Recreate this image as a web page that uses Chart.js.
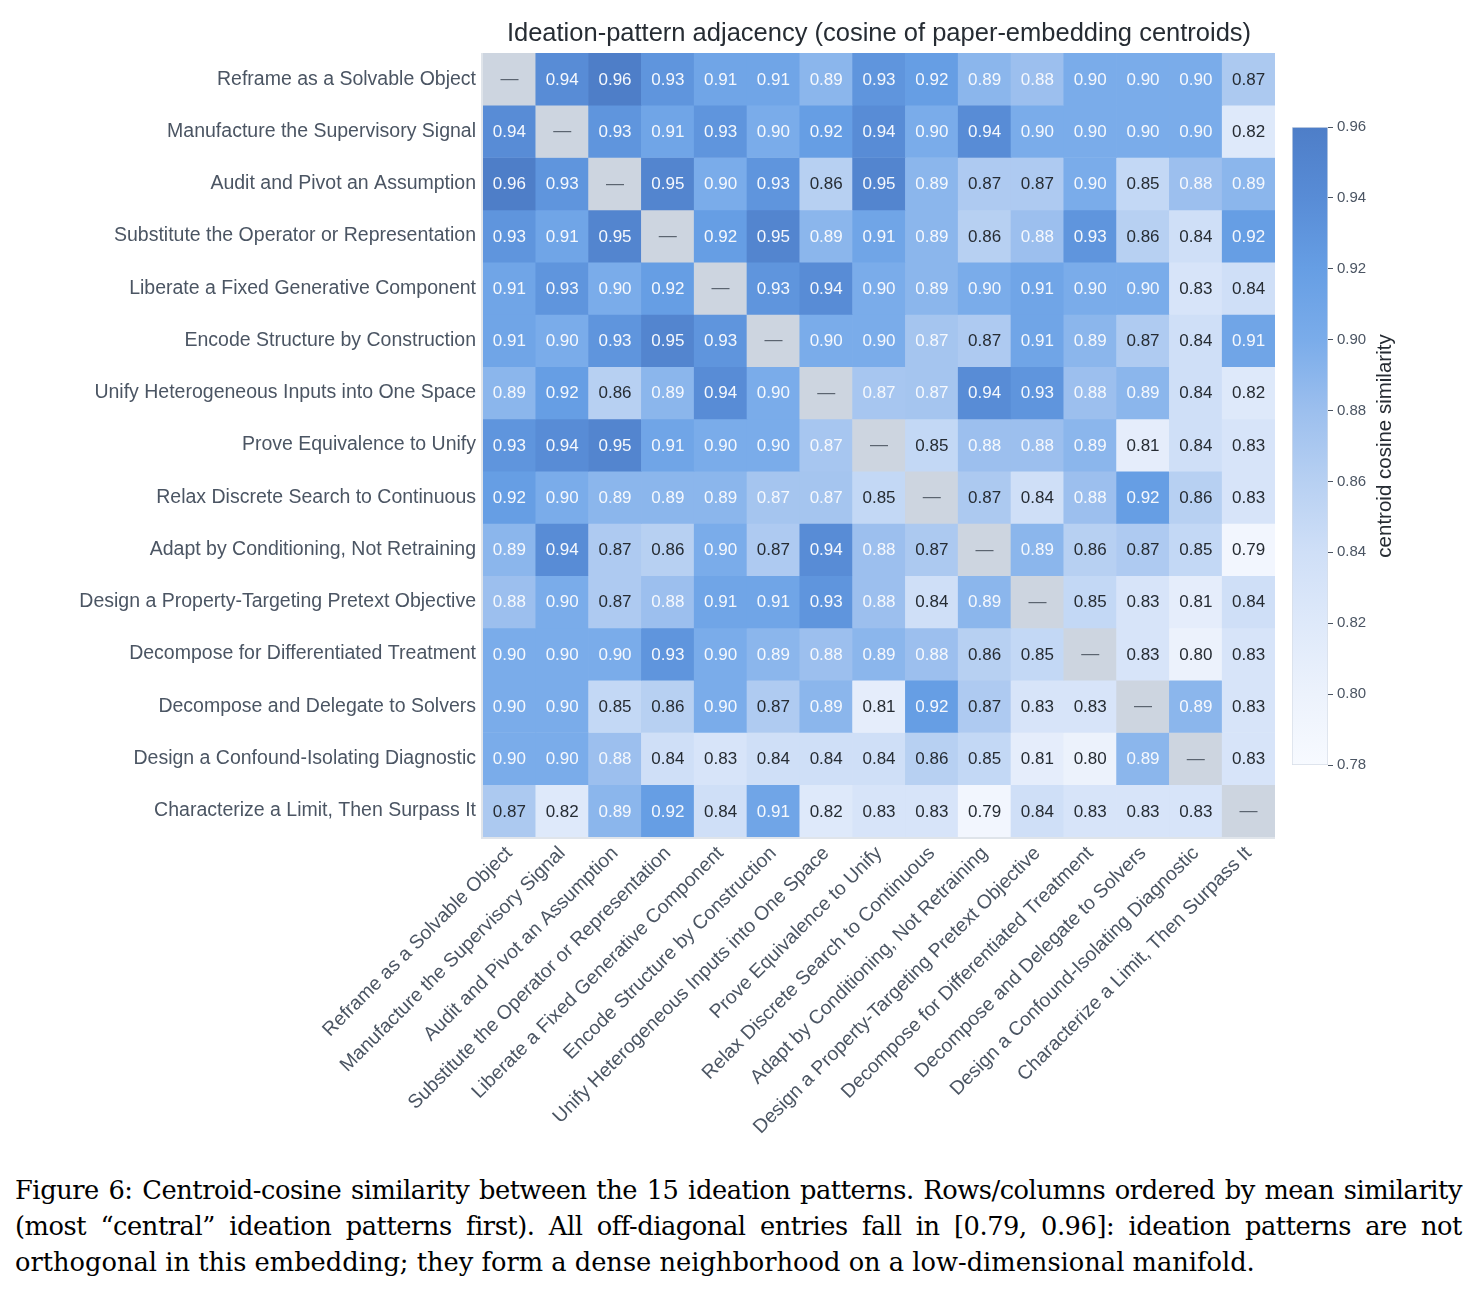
<!DOCTYPE html>
<html>
<head>
<meta charset="utf-8">
<script src="https://cdn.jsdelivr.net/npm/chart.js@4.4.1/dist/chart.umd.min.js"></script>
<style>
  body { margin: 0; background: #fff; }
  #wrap { position: relative; width: 1476px; height: 1293px; }
  #heat { position: absolute; left: 0; top: 0; }
  #cbar { position: absolute; left: 1280px; top: 100px; }
  .cap { position: absolute; left: 15px; width: 1447px; font-family: "DejaVu Serif", serif; font-size: 25.7px; line-height: 36px; color: #000; white-space: nowrap; }
  .cap.j { text-align: justify; text-align-last: justify; letter-spacing: -0.45px; }
</style>
</head>
<body>
<div id="wrap">
  <canvas id="heat" width="1476" height="1150"></canvas>
  <canvas id="cbar" width="180" height="700"></canvas>
  <div class="cap j" style="top:1172px">Figure 6: Centroid-cosine similarity between the 15 ideation patterns. Rows/columns ordered by mean similarity</div>
  <div class="cap j" style="top:1208px">(most “central” ideation patterns first). All off-diagonal entries fall in [0.79, 0.96]: ideation patterns are not</div>
  <div class="cap" style="top:1244px">orthogonal in this embedding; they form a dense neighborhood on a low-dimensional manifold.</div>
</div>
<script>
const patterns = [
  'Reframe as a Solvable Object',
  'Manufacture the Supervisory Signal',
  'Audit and Pivot an Assumption',
  'Substitute the Operator or Representation',
  'Liberate a Fixed Generative Component',
  'Encode Structure by Construction',
  'Unify Heterogeneous Inputs into One Space',
  'Prove Equivalence to Unify',
  'Relax Discrete Search to Continuous',
  'Adapt by Conditioning, Not Retraining',
  'Design a Property-Targeting Pretext Objective',
  'Decompose for Differentiated Treatment',
  'Decompose and Delegate to Solvers',
  'Design a Confound-Isolating Diagnostic',
  'Characterize a Limit, Then Surpass It',
]

// centroid cosine similarity, null on the diagonal
const sim = [
  [null, 0.94, 0.96, 0.93, 0.91, 0.91, 0.89, 0.93, 0.92, 0.89, 0.88, 0.90, 0.90, 0.90, 0.868],
  [0.94, null, 0.93, 0.91, 0.93, 0.90, 0.92, 0.94, 0.90, 0.94, 0.90, 0.90, 0.90, 0.90, 0.82],
  [0.96, 0.93, null, 0.95, 0.90, 0.93, 0.86, 0.95, 0.89, 0.867, 0.867, 0.90, 0.85, 0.88, 0.89],
  [0.93, 0.91, 0.95, null, 0.92, 0.95, 0.89, 0.91, 0.89, 0.86, 0.88, 0.93, 0.86, 0.84, 0.92],
  [0.91, 0.93, 0.90, 0.92, null, 0.93, 0.94, 0.90, 0.89, 0.90, 0.91, 0.90, 0.90, 0.83, 0.84],
  [0.91, 0.90, 0.93, 0.95, 0.93, null, 0.90, 0.90, 0.873, 0.867, 0.91, 0.89, 0.866, 0.84, 0.91],
  [0.89, 0.92, 0.86, 0.89, 0.94, 0.90, null, 0.872, 0.873, 0.94, 0.93, 0.88, 0.89, 0.84, 0.82],
  [0.93, 0.94, 0.95, 0.91, 0.90, 0.90, 0.872, null, 0.85, 0.88, 0.88, 0.89, 0.81, 0.84, 0.83],
  [0.92, 0.90, 0.89, 0.89, 0.89, 0.873, 0.873, 0.85, null, 0.868, 0.84, 0.88, 0.92, 0.86, 0.83],
  [0.89, 0.94, 0.867, 0.86, 0.90, 0.867, 0.94, 0.88, 0.868, null, 0.89, 0.86, 0.867, 0.85, 0.79],
  [0.88, 0.90, 0.867, 0.88, 0.91, 0.91, 0.93, 0.88, 0.84, 0.89, null, 0.85, 0.83, 0.81, 0.84],
  [0.90, 0.90, 0.90, 0.93, 0.90, 0.89, 0.88, 0.89, 0.88, 0.86, 0.85, null, 0.83, 0.80, 0.83],
  [0.90, 0.90, 0.85, 0.86, 0.90, 0.866, 0.89, 0.81, 0.92, 0.867, 0.83, 0.83, null, 0.89, 0.83],
  [0.90, 0.90, 0.88, 0.84, 0.83, 0.84, 0.84, 0.84, 0.86, 0.85, 0.81, 0.80, 0.89, null, 0.83],
  [0.868, 0.82, 0.89, 0.92, 0.84, 0.91, 0.82, 0.83, 0.83, 0.79, 0.84, 0.83, 0.83, 0.83, null],
]

const cbarTicks = [0.78, 0.80, 0.82, 0.84, 0.86, 0.88, 0.90, 0.92, 0.94, 0.96]

const FONT = '"Liberation Sans", Arial, sans-serif'
const LABEL = '#4b5563'
const DARK = '#262c33'
const DIAG = '#cdd5e0'

// colour ramp: value -> rgb
const ramp = [
  [0.78, [247, 250, 255]],
  [0.80, [236, 242, 252]],
  [0.82, [222, 233, 250]],
  [0.84, [207, 223, 247]],
  [0.86, [183, 208, 242]],
  [0.88, [156, 191, 238]],
  [0.90, [122, 172, 234]],
  [0.92, [102, 158, 228]],
  [0.94, [88, 140, 214]],
  [0.96, [78, 126, 200]],
]

function cmap(v) {
  if (v <= ramp[0][0]) return `rgb(${ramp[0][1].join(',')})`
  for (let i = 1; i < ramp.length; i++) {
    if (v <= ramp[i][0]) {
      const [v0, c0] = ramp[i - 1]
      const [v1, c1] = ramp[i]
      const t = (v - v0) / (v1 - v0)
      const c = c0.map((a, k) => Math.round(a + (c1[k] - a) * t))
      return `rgb(${c.join(',')})`
    }
  }
  return `rgb(${ramp[ramp.length - 1][1].join(',')})`
}

const cellText = {
  id: 'cellText',
  beforeDatasetsDraw(chart) {
    const { ctx, chartArea: a } = chart
    ctx.save()
    ctx.strokeStyle = '#dfe4ea'
    ctx.lineWidth = 2
    ctx.beginPath()
    ctx.moveTo(a.left - 1, a.top)
    ctx.lineTo(a.left - 1, a.bottom + 1)
    ctx.lineTo(a.right, a.bottom + 1)
    ctx.stroke()
    ctx.restore()
  },
  afterDatasetsDraw(chart) {
    const ctx = chart.ctx
    ctx.save()
    ctx.textAlign = 'center'
    ctx.textBaseline = 'middle'
    chart.data.datasets.forEach((ds, r) => {
      chart.getDatasetMeta(r).data.forEach((bar, c) => {
        const v = sim[r][c]
        const cy = (bar.y + bar.base) / 2
        if (v === null) {
          ctx.font = `18px ${FONT}`
          ctx.fillStyle = '#5b6470'
          ctx.fillText('—', bar.x, cy)
        } else {
          ctx.font = `17px ${FONT}`
          ctx.fillStyle = v >= 0.87 ? '#f5f8fd' : DARK
          ctx.fillText(v.toFixed(2), bar.x, cy + 1)
        }
      })
    })
    ctx.restore()
  },
  afterDraw(chart) {
    const { ctx, chartArea: a } = chart
    ctx.save()
    ctx.font = `25.5px ${FONT}`
    ctx.fillStyle = DARK
    ctx.textAlign = 'center'
    ctx.textBaseline = 'middle'
    ctx.fillText('Ideation-pattern adjacency (cosine of paper-embedding centroids)', (a.left + a.right) / 2, 34)
    ctx.restore()
  },
}

new Chart(document.getElementById('heat'), {
  type: 'bar',
  data: {
    labels: patterns,
    datasets: sim.map((row, r) => ({
      label: patterns[r],
      data: row.map(() => [r, r + 1]),
      backgroundColor: row.map((v) => (v === null ? DIAG : cmap(v))),
      borderWidth: 0,
      barPercentage: 1,
      categoryPercentage: 1,
      grouped: false,
    })),
  },
  options: {
    responsive: false,
    animation: false,
    devicePixelRatio: 1,
    layout: { padding: { top: 53, right: 201, left: 0, bottom: 0 } },
    plugins: { legend: { display: false }, tooltip: { enabled: false } },
    scales: {
      x: {
        type: 'category',
        offset: true,
        grid: { display: false, drawTicks: false },
        border: { display: false },
        ticks: {
          autoSkip: false,
          maxRotation: 45,
          minRotation: 45,
          padding: 5,
          color: LABEL,
          font: { family: FONT, size: 19.5 },
        },
        afterFit: (s) => { s.height = 313 },
      },
      y: {
        type: 'linear',
        min: 0,
        max: 15,
        reverse: true,
        grid: { display: false, drawTicks: false },
        border: { display: false },
        afterBuildTicks: (a) => { a.ticks = patterns.map((_, i) => ({ value: i + 0.5 })) },
        ticks: {
          autoSkip: false,
          padding: 7,
          color: LABEL,
          font: { family: FONT, size: 19.5 },
          callback: (v, i) => patterns[i],
        },
        afterFit: (s) => { s.width = 483 },
      },
    },
  },
  plugins: [cellText],
})

// colour bar
const cbarTitle = {
  id: 'cbarTitle',
  afterDraw(chart) {
    const ctx = chart.ctx
    const y = chart.scales.y
    ctx.save()
    ctx.translate(105, (y.top + y.bottom) / 2)
    ctx.rotate(-Math.PI / 2)
    ctx.font = `20.5px ${FONT}`
    ctx.fillStyle = DARK
    ctx.textAlign = 'center'
    ctx.textBaseline = 'middle'
    ctx.fillText('centroid cosine similarity', 0, 0)
    ctx.restore()
  },
}

function rampGradient(chart) {
  const y = chart.scales.y
  const lo = cbarTicks[0]
  const hi = cbarTicks[cbarTicks.length - 1]
  const p0 = y ? y.getPixelForValue(lo) : NaN
  const p1 = y ? y.getPixelForValue(hi) : NaN
  if (!isFinite(p0) || !isFinite(p1) || p0 === p1) return cmap(0.87)
  const g = chart.ctx.createLinearGradient(0, p0, 0, p1)
  ramp.forEach(([v]) => g.addColorStop((v - lo) / (hi - lo), cmap(v)))
  return g
}

new Chart(document.getElementById('cbar'), {
  type: 'bar',
  data: {
    labels: [''],
    datasets: [{
      data: [[cbarTicks[0], cbarTicks[cbarTicks.length - 1]]],
      backgroundColor: (c) => rampGradient(c.chart),
      borderColor: '#d6dde7',
      borderWidth: 1,
      borderSkipped: false,
      barPercentage: 1,
      categoryPercentage: 1,
    }],
  },
  options: {
    responsive: false,
    animation: false,
    devicePixelRatio: 1,
    layout: { padding: { left: 12, top: 27, bottom: 35, right: 0 } },
    plugins: { legend: { display: false }, tooltip: { enabled: false } },
    scales: {
      x: { display: false },
      y: {
        position: 'right',
        min: cbarTicks[0],
        max: cbarTicks[cbarTicks.length - 1],
        afterBuildTicks: (a) => { a.ticks = cbarTicks.map((v) => ({ value: v })) },
        grid: { drawOnChartArea: false, drawTicks: true, tickLength: 5, color: '#4b5563' },
        border: { display: false },
        ticks: {
          padding: 4,
          color: LABEL,
          font: { family: FONT, size: 15 },
          callback: (v) => v.toFixed(2),
        },
        afterFit: (s) => { s.width = 132 },
      },
    },
  },
  plugins: [cbarTitle],
})
</script>
</body>
</html>
